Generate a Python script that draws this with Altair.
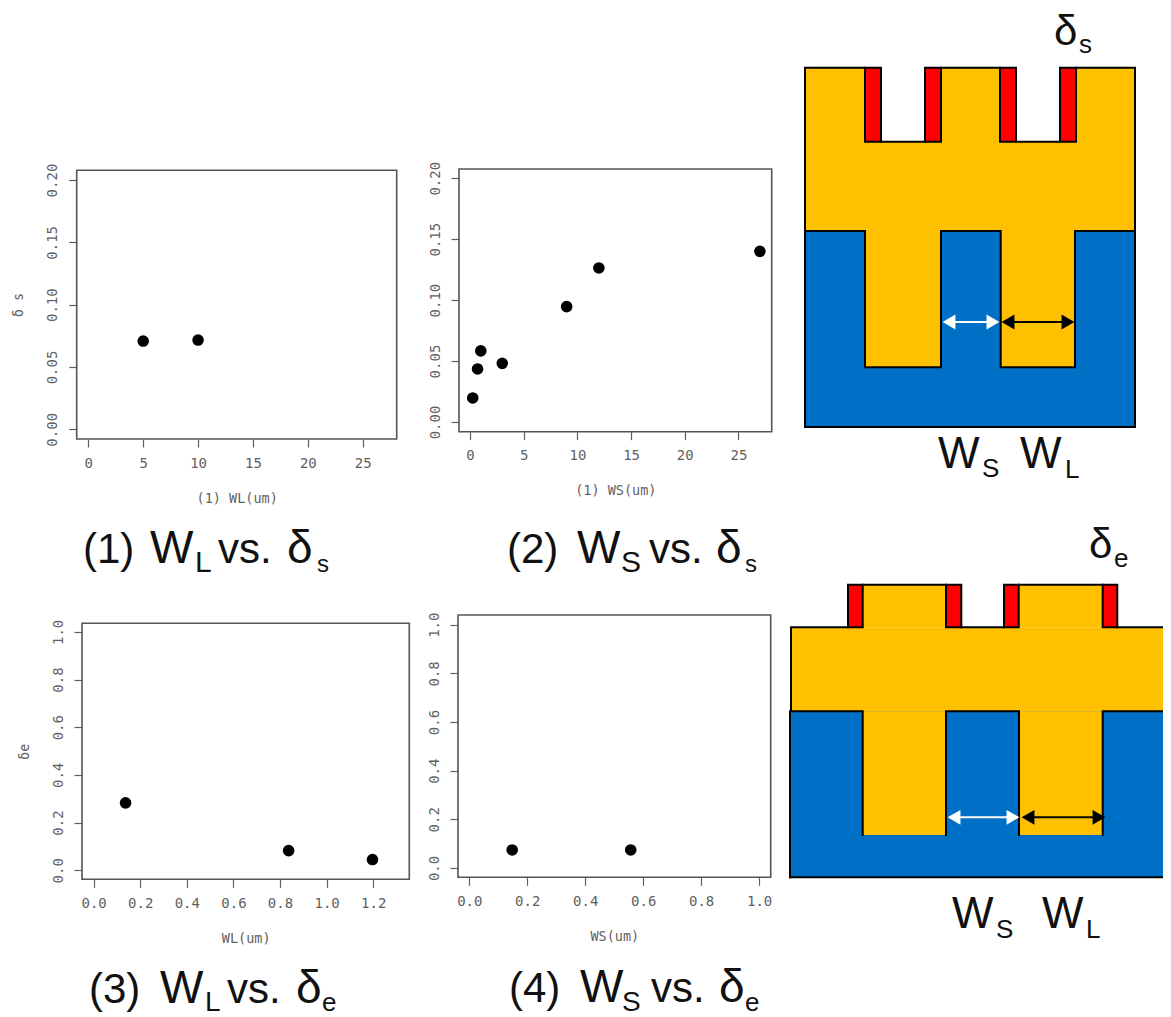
import altair as alt
import pandas as pd

W, H = 1155, 1009
OX, OY = 8, 8

# scatter data
P1_X = [5, 10]
P1_Y = [0.0708, 0.0716]
P2_X = [0.25, 0.7, 1.0, 3, 9, 12, 27]
P2_Y = [0.0197, 0.0435, 0.0583, 0.0481, 0.0947, 0.1264, 0.14]
P3_X = [0.137, 0.837, 1.197]
P3_Y = [0.2826, 0.0825, 0.0448]
P4_X = [0.148, 0.557]
P4_Y = [0.074, 0.074]

PANELS = [
    dict(xs=P1_X, ys=P1_Y, box=(76.7, 396.7, 439, 170.3), xd=(-1.06, 28.1), yd=(-0.0078, 0.2078),
         xt=[0, 5, 10, 15, 20, 25], yt=[0, 0.05, 0.1, 0.15, 0.2], xf="d", yf=".2f",
         xtitle="(1) WL(um)", ytitle="δ s"),
    dict(xs=P2_X, ys=P2_Y, box=(459, 771.7, 431.7, 169), xd=(-1.03, 28.1), yd=(-0.008, 0.2076),
         xt=[0, 5, 10, 15, 20, 25], yt=[0, 0.05, 0.1, 0.15, 0.2], xf="d", yf=".2f",
         xtitle="(1) WS(um)", ytitle=""),
    dict(xs=P3_X, ys=P3_Y, box=(82, 409.3, 879.3, 623.3), xd=(-0.05, 1.355), yd=(-0.038, 1.036),
         xt=[0, 0.2, 0.4, 0.6, 0.8, 1.0, 1.2], yt=[0, 0.2, 0.4, 0.6, 0.8, 1.0], xf=".1f", yf=".1f",
         xtitle="WL(um)", ytitle="δe"),
    dict(xs=P4_X, ys=P4_Y, box=(458, 770.7, 877.3, 615), xd=(-0.039, 1.04), yd=(-0.0383, 1.04),
         xt=[0, 0.2, 0.4, 0.6, 0.8, 1.0], yt=[0, 0.2, 0.4, 0.6, 0.8, 1.0], xf=".1f", yf=".1f",
         xtitle="WS(um)", ytitle=""),
]

TEXT_STR = ["(1)", "W", "L", "vs.", "δ", "s",
            "(2)", "W", "S", "vs.", "δ", "s",
            "(3)", "W", "L", "vs.", "δ", "e",
            "(4)", "W", "S", "vs.", "δ", "e",
            "δ", "s", "W", "S", "W", "L",
            "δ", "e", "W", "S", "W", "L"]
TEXT_X = [83, 150, 195, 218, 287, 317,
          507, 577, 621, 649, 716, 745,
          89, 160, 205, 227, 296, 322,
          509, 580, 622, 651, 719, 745,
          1054, 1079, 938, 982, 1020, 1065,
          1089, 1114, 952, 996, 1042, 1086]
TEXT_Y = [563, 563, 572, 563, 563, 572,
          563, 563, 572, 563, 563, 572,
          1003, 1003, 1011, 1003, 1003, 1011,
          1002, 1002, 1011, 1002, 1002, 1011,
          45, 53, 468, 477, 468, 478,
          557.7, 567, 928, 938, 928, 938]
TEXT_SIZE = [42, 46, 30, 42, 46, 24,
             42, 46, 30, 42, 46, 24,
             42, 46, 28, 42, 46, 26,
             42, 46, 28, 42, 46, 26,
             42, 26, 44, 26, 44, 26,
             42, 26, 44, 26, 44, 26]

BLUE = "#0070C6"
GOLD = "#FFC000"
RED = "#FF0000"
RECT_X1 = [805, 805, 865, 1000.7, 865, 925, 1000, 1060,
           790, 791, 848, 862.7, 1004, 1018.7, 946, 1102.7, 862.7, 1019]
RECT_X2 = [1135, 1135, 941, 1075, 881, 941, 1016, 1076,
           1171, 1171, 862.7, 946, 1018.7, 1102.7, 961.3, 1117.3, 946, 1102.7]
RECT_Y1 = [231, 67.7, 231, 231, 67.7, 67.7, 67.7, 67.7,
           711.3, 627.3, 584.7, 584.7, 584.7, 584.7, 584.7, 584.7, 711.3, 711.3]
RECT_Y2 = [426.7, 231, 367.3, 367.3, 141.7, 141.7, 141.7, 141.7,
           877.3, 711.3, 627.3, 627.3, 627.3, 627.3, 627.3, 627.3, 835, 835]
RECT_C = [BLUE, GOLD, GOLD, GOLD, RED, RED, RED, RED,
          BLUE, GOLD, RED, GOLD, RED, GOLD, RED, RED, GOLD, GOLD]

NOTCH_X1 = [881, 1016]
NOTCH_X2 = [925, 1060]
NOTCH_Y1 = [64, 64]
NOTCH_Y2 = [141.7, 141.7]

OUTLINES = [
    [(925, 67.7), (1016, 67.7), (1016, 141.7), (1060, 141.7), (1060, 67.7), (1135, 67.7), (1135, 427), (805, 427),
     (805, 67.7), (881, 67.7), (881, 141.7), (925, 141.7), (925, 67.7)],
    [(865, 67.7), (865, 141.7), (881, 141.7)],
    [(941, 67.7), (941, 141.7), (925, 141.7)],
    [(1000, 67.7), (1000, 141.7), (1016, 141.7)],
    [(1076, 67.7), (1076, 141.7), (1060, 141.7)],
    [(805, 231), (865, 231), (865, 367.3), (941, 367.3), (941, 231), (1000.7, 231), (1000.7, 367.3),
     (1075, 367.3), (1075, 231), (1135, 231)],
    [(791, 711), (791, 627.3), (848, 627.3), (848, 584.7), (961.3, 584.7), (961.3, 627.3), (1004, 627.3),
     (1004, 584.7), (1117.3, 584.7), (1117.3, 627.3), (1171, 627.3)],
    [(862.7, 584.7), (862.7, 627.3), (848, 627.3)],
    [(946, 584.7), (946, 627.3), (961.3, 627.3)],
    [(1018.7, 584.7), (1018.7, 627.3), (1004, 627.3)],
    [(1102.7, 584.7), (1102.7, 627.3), (1117.3, 627.3)],
    [(790, 877.3), (790, 711.3), (862.7, 711.3), (862.7, 835)],
    [(946, 835), (946, 711.3), (1019, 711.3), (1019, 835)],
    [(1102.7, 835), (1102.7, 711.3), (1171, 711.3)],
    [(790, 877.3), (1171, 877.3)],
]

ARROW_X1 = [946, 1005, 952, 1026]
ARROW_X2 = [995, 1070, 1014, 1100]
ARROW_Y = [322, 322, 817.3, 817.3]
ARROW_C = ["white", "black", "white", "black"]
HEAD_X = [949, 993, 1008, 1068, 954, 1013, 1028, 1099]
HEAD_Y = [322, 322, 322, 322, 817.3, 817.3, 817.3, 817.3]
HEAD_C = ["white", "white", "black", "black", "white", "white", "black", "black"]
HEAD_S = ["triangle-left", "triangle-right"] * 4

AXIS_GRAY = "#5f5f5f"
BOX_GRAY = "#555555"
MONO = "DejaVu Sans Mono"
SANS = "Liberation Sans"


def px(field):
    return alt.X(field, type="quantitative", axis=None,
                 scale=alt.Scale(domain=[OX, W + OX], range=[0, W], nice=False, zero=False))


def py(field):
    return alt.Y(field, type="quantitative", axis=None,
                 scale=alt.Scale(domain=[OY, H + OY], range=[0, H], nice=False, zero=False))


layers = []

rects = pd.DataFrame(dict(x=RECT_X1, x2=RECT_X2, y=RECT_Y1, y2=RECT_Y2, c=RECT_C))
layers.append(alt.Chart(rects).mark_rect().encode(
    x=px("x"), x2="x2", y=py("y"), y2="y2", color=alt.Color("c:N", scale=None)))

notches = pd.DataFrame(dict(x=NOTCH_X1, x2=NOTCH_X2, y=NOTCH_Y1, y2=NOTCH_Y2))
layers.append(alt.Chart(notches).mark_rect(color="white").encode(
    x=px("x"), x2="x2", y=py("y"), y2="y2"))

rows = []
for s, path in enumerate(OUTLINES):
    for i, (xv, yv) in enumerate(path):
        rows.append(dict(seg=s, i=i, x=xv, y=yv))
layers.append(alt.Chart(pd.DataFrame(rows)).mark_line(color="black", strokeWidth=2, strokeCap="square").encode(
    x=px("x"), y=py("y"), detail="seg:N", order="i:Q"))

arrows = pd.DataFrame(dict(x=ARROW_X1, x2=ARROW_X2, y=ARROW_Y, c=ARROW_C))
layers.append(alt.Chart(arrows).mark_rule(strokeWidth=2).encode(
    x=px("x"), x2="x2", y=py("y"), color=alt.Color("c:N", scale=None)))
heads = pd.DataFrame(dict(x=HEAD_X, y=HEAD_Y, c=HEAD_C, s=HEAD_S))
layers.append(alt.Chart(heads).mark_point(filled=True, opacity=1, size=220).encode(
    x=px("x"), y=py("y"), color=alt.Color("c:N", scale=None), shape=alt.Shape("s:N", scale=None)))

texts = pd.DataFrame(dict(t=TEXT_STR, x=TEXT_X, y=TEXT_Y, s=TEXT_SIZE))
layers.append(alt.Chart(texts).mark_text(font=SANS, align="left", baseline="alphabetic", color="#111111").encode(
    x=px("x"), y=py("y"), text="t:N", size=alt.Size("s:Q", scale=None)))

for p in PANELS:
    left, right, bottom, top = p["box"]
    bx = pd.DataFrame(dict(x=[left], x2=[right], y=[top], y2=[bottom]))
    layers.append(alt.Chart(bx).mark_rect(fill="white", fillOpacity=0, stroke=BOX_GRAY, strokeWidth=1.6).encode(
        x=px("x"), x2="x2", y=py("y"), y2="y2"))
    d = pd.DataFrame(dict(a=p["xs"], b=p["ys"]))
    common = dict(grid=False, domain=False, tickColor=AXIS_GRAY, tickSize=8, tickWidth=1.2,
                  labelColor=AXIS_GRAY, labelFont=MONO, labelFontSize=14, labelOverlap=False,
                  labelFlush=False, titleColor=AXIS_GRAY, titleFont=MONO, titleFontSize=13.5,
                  titleFontWeight="normal")
    xax = alt.Axis(orient="bottom", values=p["xt"], format=p["xf"], title=p["xtitle"],
                   offset=(bottom - OY) - H, labelPadding=9, titlePadding=21, **common)
    yax_kwargs = dict(orient="left", values=p["yt"], format=p["yf"],
                      offset=-(left - OX), labelAngle=270, labelPadding=9, titlePadding=20,
                      labelAlign="center", labelBaseline="bottom", **common)
    yax_kwargs["title"] = p["ytitle"] if p["ytitle"] else None
    yax = alt.Axis(**yax_kwargs)
    layers.append(alt.Chart(d).mark_circle(size=135, color="black", opacity=1).encode(
        x=alt.X("a:Q", axis=xax, scale=alt.Scale(domain=list(p["xd"]), range=[left - OX, right - OX], nice=False, zero=False)),
        y=alt.Y("b:Q", axis=yax, scale=alt.Scale(domain=list(p["yd"]), range=[bottom - OY, top - OY], nice=False, zero=False)),
    ))

chart = alt.layer(*layers).resolve_scale(x="independent", y="independent").resolve_axis(
    x="independent", y="independent"
).properties(
    width=W, height=H, padding=0,
    autosize=alt.AutoSizeParams(type="none"),
).configure_view(stroke=None)

chart.save("out.html", embed_options={"renderer": "svg", "actions": False})
